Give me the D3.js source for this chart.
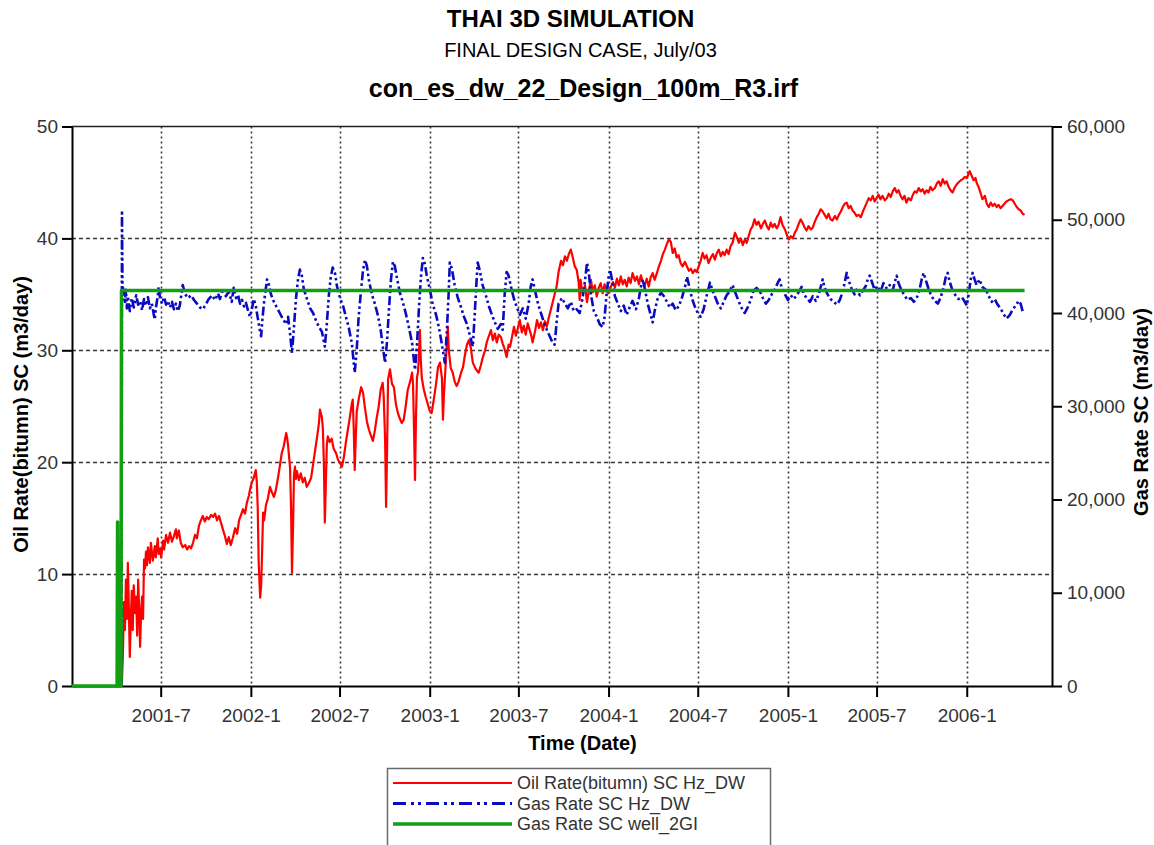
<!DOCTYPE html>
<html>
<head>
<meta charset="utf-8">
<script src="https://cdn.jsdelivr.net/npm/d3@7"></script>
<style>
  html, body { margin: 0; padding: 0; background: #fff; }
  svg { display: block; font-family: "Liberation Sans", Arial, Helvetica, sans-serif; }
</style>
</head>
<body>
<svg id="chart" width="1154" height="845"></svg>
<script>
// ---- chart text ----
const titleLines = ["THAI 3D SIMULATION", "FINAL DESIGN CASE, July/03", "con_es_dw_22_Design_100m_R3.irf"];
const xAxisTitle = "Time (Date)";
const yLeftTitle = "Oil Rate(bitumn) SC (m3/day)";
const yRightTitle = "Gas Rate SC (m3/day)";
const seriesNames = ["Oil Rate(bitumn) SC Hz_DW", "Gas Rate SC Hz_DW", "Gas Rate SC well_2GI"];

// ---- axes ----
const simStart = "2001-01-01";
const timeDomain = ["2001-01-01", "2006-06-24"];
const timeTicks = ["2001-7", "2002-1", "2002-7", "2003-1", "2003-7", "2004-1", "2004-7", "2005-1", "2005-7", "2006-1"];
const oilTicks = [0, 10, 20, 30, 40, 50];
const gasTicks = [0, 10000, 20000, 30000, 40000, 50000, 60000];

// ---- series: [days since simStart, rate in m3/day] ----
const oilRate = [[100,0.3],[102,0.5],[104,3],[106,7.5],[108,5],[110,9.5],[112,6],[114,11],[116,7],[118,2.6],[120,6],[122,8.5],[124,5],[126,9],[129,6.5],[131,8],[133,4.5],[135,9.5],[137,7],[139,3.5],[141,6.5],[143,8],[145,6],[147,11.3],[149,10.5],[151,12],[153,10.8],[155,12.4],[159,11],[161,12.8],[165,11.2],[169,12.5],[171,11.5],[175,13.2],[177,11.8],[180,12.3],[182,11.5],[186,13],[188,12.2],[192,13.5],[196,12.8],[200,13.7],[204,12.9],[208,13.4],[212,14],[214,13.2],[218,13.9],[222,12.8],[226,12.4],[231,12.6],[235,12.2],[239,12.5],[243,12.3],[247,12.8],[251,13.5],[255,13.2],[259,14.3],[263,14.8],[267,15.2],[271,14.7],[275,15.1],[279,14.9],[284,15.3],[288,15.1],[292,15.4],[296,14.8],[300,15.2],[304,14.6],[308,14],[312,13.4],[316,12.7],[320,13.3],[324,12.6],[328,13.2],[333,14.1],[337,13.6],[341,14.8],[345,15.3],[349,15.8],[353,15.4],[357,16.4],[361,17],[363,17.5],[367,18.2],[371,18.6],[375,19.3],[377,18.4],[379,16],[381,11],[384,7.9],[386,9],[388,12],[390,15.5],[392,14.8],[396,16.2],[400,16.8],[404,17.8],[408,17.3],[412,16.9],[416,17.5],[420,18.5],[424,19.6],[428,20.8],[432,21.4],[437,22.6],[439,22.2],[441,21.5],[443,20.5],[445,19.5],[447,16],[449,10.1],[451,14],[453,18.8],[455,19.6],[457,18.5],[459,19.2],[463,18.4],[467,19],[471,18.2],[475,18.6],[479,17.8],[483,18.1],[488,18.6],[492,19.8],[496,21],[500,22.2],[504,23.5],[506,24.7],[510,24],[512,23],[514,20],[516,14.6],[518,18],[520,21.5],[522,22.3],[526,21.8],[530,22.1],[534,21.2],[539,20.8],[543,20.2],[547,19.9],[551,19.6],[555,20.5],[559,21.8],[563,22.9],[567,24],[571,25.2],[573,25.6],[575,23],[577,19.3],[579,22],[581,24.5],[585,25.6],[590,26.7],[594,26.2],[598,24.8],[602,23.6],[606,22.9],[610,22.4],[614,21.9],[618,22.8],[622,24],[626,25],[630,26.5],[634,27.1],[636,26],[639,22],[641,16],[643,21],[645,27.4],[649,28.3],[653,27],[657,26.7],[661,25.2],[665,24.4],[669,23.9],[673,23.5],[677,23.8],[681,25],[685,26.4],[690,27.2],[694,28],[696,27],[698,23],[700,18.4],[702,24],[704,27.6],[706,28],[708,29.5],[710,31.8],[712,29],[714,27.5],[718,26.5],[722,25.8],[726,25.2],[730,24.6],[734,24.4],[738,25.5],[743,27],[747,28.5],[751,28.9],[755,27.5],[757,23.8],[759,26],[763,29],[767,32.1],[769,30],[773,28.4],[777,28],[781,27.2],[785,26.8],[789,27.2],[794,28],[798,28.5],[802,29.6],[806,30.5],[810,30.9],[814,30.2],[818,28.9],[822,28.5],[826,28.2],[830,28],[834,28.6],[838,29.3],[843,30],[847,30.8],[851,31.3],[855,31.8],[859,30.9],[863,31.5],[867,30.7],[871,31.4],[875,31.2],[879,30.6],[883,30.1],[887,29.4],[891,30.5],[894,30.3],[898,31.2],[902,32.1],[906,31.3],[910,32],[914,32.7],[918,31.6],[922,32.2],[926,31.4],[930,32.4],[934,31.8],[938,31.2],[940,30.7],[945,31.7],[949,32.7],[953,32],[957,32.5],[961,31.8],[965,32.6],[969,32.1],[973,32.9],[977,33.6],[981,34.3],[985,35],[989,35.7],[993,37],[998,38],[1002,37.6],[1006,38.4],[1010,38],[1014,38.6],[1018,39],[1022,38.3],[1026,37.5],[1030,37.2],[1034,36.1],[1036,34.5],[1038,36.3],[1042,35],[1047,35.8],[1051,34.3],[1055,35.4],[1059,36.3],[1063,35.2],[1067,35.8],[1071,34.8],[1075,35.6],[1079,36],[1083,35.1],[1087,35.9],[1091,35.3],[1095,35.1],[1100,35.7],[1104,36.1],[1108,35.6],[1112,36.4],[1116,35.8],[1120,36.6],[1124,35.9],[1128,36.3],[1132,35.7],[1136,36.5],[1140,36],[1144,36.9],[1149,36.2],[1153,36.6],[1157,35.9],[1161,36.7],[1165,36.1],[1169,35.8],[1173,36.4],[1177,35.7],[1181,36.5],[1185,36.9],[1189,36.3],[1193,36.8],[1197,37.4],[1202,38],[1206,38.6],[1210,39],[1214,39.5],[1218,39.9],[1222,39.7],[1226,38.7],[1230,39.1],[1234,38.3],[1238,38.5],[1242,37.8],[1246,37.5],[1251,37.9],[1255,37.5],[1259,37.1],[1263,37.3],[1267,36.9],[1271,37.2],[1275,37],[1279,37.5],[1283,38],[1287,38.7],[1291,38.2],[1295,38.5],[1299,37.8],[1304,38.3],[1308,38.6],[1312,38.1],[1316,38.7],[1320,39],[1324,38.4],[1328,38.8],[1332,38.5],[1336,39],[1340,38.6],[1344,39.3],[1348,39.6],[1353,40.5],[1357,40.1],[1361,39.6],[1365,40],[1369,39.4],[1373,39.9],[1377,39.6],[1381,40.2],[1385,40.8],[1389,41.1],[1393,41.7],[1397,41.2],[1401,41.5],[1406,40.9],[1410,41.3],[1414,41.6],[1418,41.1],[1422,40.8],[1426,41.4],[1430,41],[1434,41.3],[1438,40.9],[1442,41.2],[1446,41.9],[1450,41.2],[1455,40.8],[1459,40.3],[1463,39.9],[1467,40.2],[1471,40],[1475,40.5],[1479,40.8],[1483,41.3],[1487,41.7],[1491,41.4],[1495,41],[1499,40.7],[1503,41.1],[1508,40.8],[1512,41],[1516,41.5],[1520,41.9],[1524,42.2],[1528,42.6],[1532,42.4],[1536,42.1],[1540,41.8],[1544,42.2],[1548,41.7],[1552,41.6],[1557,42],[1561,41.7],[1565,42.1],[1569,42.4],[1573,42.8],[1577,43.1],[1581,43.2],[1585,42.7],[1589,42.9],[1593,42.5],[1597,42.3],[1601,42],[1605,42.1],[1610,41.9],[1614,42.4],[1618,42.8],[1622,43.2],[1626,43.6],[1630,43.4],[1634,43.8],[1638,43.3],[1642,43.6],[1646,43.9],[1650,43.5],[1654,43.8],[1659,43.4],[1663,43.6],[1667,44],[1671,43.7],[1675,44.2],[1679,44.5],[1683,44.1],[1687,44.3],[1691,43.8],[1695,43.5],[1699,43.8],[1703,43.2],[1707,43.6],[1712,43.4],[1716,43.9],[1720,44.2],[1724,44.1],[1728,44.5],[1732,44.2],[1736,44.4],[1740,44],[1744,44.3],[1748,44.1],[1752,44.6],[1756,44.3],[1761,44.5],[1765,44.9],[1769,45.1],[1773,44.7],[1777,45.3],[1781,44.9],[1785,45.1],[1789,44.6],[1793,44.3],[1797,44.1],[1801,44.5],[1805,44.8],[1809,45],[1814,45.2],[1818,45.3],[1822,45.5],[1826,45.4],[1830,45.8],[1832,46],[1836,45.6],[1840,45.2],[1844,45.4],[1846,45],[1850,44.6],[1854,44.1],[1858,43.5],[1863,43.8],[1867,43.1],[1871,42.8],[1875,43.2],[1879,42.9],[1883,43.1],[1887,42.8],[1891,43],[1895,42.7],[1899,42.9],[1903,43.1],[1907,43.3],[1911,43.4],[1916,43.5],[1920,43.4],[1924,43.1],[1928,42.8],[1932,42.6],[1936,42.5],[1940,42.2],[1944,42.1]];

const gasRateHz = [[101,0],[102,51000],[103,43000],[106,42000],[108,41000],[110,42500],[112,40500],[114,41800],[118,40200],[122,41600],[126,40600],[131,41900],[135,40900],[139,41300],[143,40300],[147,41500],[151,40800],[155,41700],[159,40500],[163,41000],[167,39800],[169,39300],[171,40500],[175,41800],[177,42800],[180,41500],[184,41000],[188,41700],[192,40900],[196,41300],[200,40600],[204,41200],[208,40400],[212,41000],[216,40200],[220,40800],[226,43000],[231,42000],[237,41600],[243,41900],[249,41400],[255,41000],[261,40600],[267,40400],[273,40900],[279,41500],[286,41900],[292,41400],[298,42100],[302,41500],[308,42600],[314,41800],[320,42300],[326,41200],[330,42700],[335,41600],[339,41900],[343,41000],[347,41400],[351,40700],[355,41100],[359,40300],[363,39600],[367,40400],[371,41500],[375,40800],[379,39500],[384,38000],[386,37500],[388,39000],[392,41200],[396,42800],[398,43600],[402,43000],[406,42000],[412,41200],[418,40600],[424,40000],[430,39400],[437,38800],[441,39600],[445,37800],[449,35700],[453,38500],[457,41500],[461,43500],[465,44650],[469,44000],[473,42600],[479,41600],[486,40500],[492,40000],[498,39200],[504,38500],[510,38000],[516,36400],[520,38800],[524,41800],[528,43800],[532,44870],[537,44200],[541,42800],[547,41600],[553,40800],[559,39600],[565,38400],[571,36800],[577,33600],[581,36000],[585,39600],[590,42500],[594,44600],[598,45700],[602,45000],[606,43500],[612,42000],[618,41000],[624,39800],[630,38200],[634,36500],[639,34650],[643,37000],[647,40500],[651,43600],[655,45500],[659,45000],[663,43800],[669,42200],[675,41200],[681,40000],[687,38600],[694,36800],[700,33900],[704,36500],[708,40500],[712,43800],[716,45900],[720,45300],[724,44000],[730,42600],[736,41000],[743,39800],[749,38400],[755,36600],[761,34650],[765,38000],[769,42500],[771,45400],[775,44800],[781,43000],[787,41700],[794,40600],[800,39600],[806,38800],[812,37600],[818,36400],[822,40000],[826,43800],[828,45400],[832,44600],[838,43000],[845,41800],[851,40700],[857,39800],[863,39000],[869,38300],[875,38800],[879,38200],[883,42000],[887,44400],[891,44000],[896,42800],[902,41500],[908,40600],[914,39800],[920,40500],[926,39400],[932,41000],[936,42800],[940,43600],[945,42400],[951,41000],[957,40000],[963,39000],[969,38200],[975,37500],[981,36800],[985,36600],[989,39000],[993,41000],[1000,41600],[1006,41000],[1012,40500],[1018,41200],[1024,40200],[1030,40400],[1036,40000],[1042,41600],[1047,43500],[1051,45400],[1055,44200],[1059,42000],[1065,40200],[1071,39600],[1077,38800],[1083,38500],[1087,39600],[1091,42000],[1095,43800],[1098,44650],[1102,43600],[1108,41800],[1114,41000],[1120,40200],[1126,40800],[1132,39800],[1138,40600],[1144,41300],[1151,40400],[1157,41600],[1161,42800],[1165,43600],[1169,42600],[1175,41000],[1181,39800],[1185,39000],[1189,40200],[1195,41500],[1202,42200],[1208,41800],[1214,41200],[1220,40600],[1226,41000],[1232,40300],[1238,40700],[1244,41500],[1251,42800],[1255,43900],[1259,43000],[1265,41600],[1271,40700],[1277,40000],[1283,39600],[1289,40400],[1295,41800],[1302,43250],[1306,42600],[1312,41800],[1318,41000],[1324,40500],[1330,41200],[1336,41900],[1342,42300],[1348,43000],[1355,42000],[1361,41200],[1367,40500],[1373,40000],[1379,40600],[1385,41400],[1391,42400],[1397,42700],[1404,42300],[1410,41600],[1416,41000],[1422,41400],[1428,42000],[1434,42500],[1440,43200],[1444,43600],[1448,42800],[1455,42000],[1461,41400],[1467,41900],[1473,41500],[1479,41900],[1485,42400],[1489,42800],[1493,42100],[1499,41600],[1506,41200],[1512,41800],[1518,41300],[1524,42000],[1528,42800],[1532,43600],[1536,42700],[1542,42000],[1548,41500],[1554,41200],[1561,40900],[1567,41400],[1573,42300],[1577,43300],[1581,44300],[1585,43500],[1591,42600],[1597,42000],[1601,42500],[1608,41900],[1614,42400],[1620,42900],[1624,43600],[1628,44000],[1632,43400],[1638,42500],[1644,42900],[1650,42300],[1656,43200],[1663,42600],[1669,43000],[1675,42400],[1679,43300],[1683,44000],[1687,43200],[1693,42400],[1699,41900],[1705,41400],[1712,41600],[1718,41200],[1724,41600],[1730,42600],[1734,43600],[1738,44300],[1742,43600],[1748,42600],[1754,41800],[1761,41300],[1767,41000],[1773,41700],[1779,42800],[1783,43800],[1787,44300],[1791,43400],[1797,42400],[1803,41900],[1809,41500],[1816,41700],[1822,41200],[1826,40800],[1830,42000],[1834,43600],[1838,44300],[1842,43600],[1846,43000],[1852,43600],[1858,42800],[1865,42500],[1871,41800],[1877,41200],[1883,41500],[1889,40900],[1895,40500],[1901,39900],[1907,39400],[1914,39800],[1920,40400],[1926,40800],[1932,41300],[1936,41000],[1940,40200],[1944,40000]];

const gasRateWell = [[0,0],[92,0],[93,17600],[94,0],[100,0],[101,42400],[1944,42400]];

// ---- drawing ----
const svg = d3.select("#chart");
const font = '"Liberation Sans", Arial, Helvetica, sans-serif';
const plot = { left: 72, right: 1052, top: 126.5, bottom: 686 };
const colors = { oil: "#ff0000", gasHz: "#0a0abf", gasWell: "#12a012" };

const parseDay = d3.timeParse("%Y-%m-%d");
const t0 = parseDay(simStart);
const toDate = d => d3.timeDay.offset(t0, d);
const tickDates = timeTicks.map(s => { const [yy, mm] = s.split("-").map(Number); return new Date(yy, mm - 1, 1); });

const x = d3.scaleTime().domain(timeDomain.map(parseDay)).range([plot.left, plot.right]);
const yOil = d3.scaleLinear().domain([0, 50]).range([plot.bottom, plot.top]);
const yGas = d3.scaleLinear().domain([0, 60000]).range([plot.bottom, plot.top]);

// titles
const titleSpec = [
  { x: 570.5, y: 27, size: 24, weight: "bold" },
  { x: 580.5, y: 57, size: 20, weight: "normal" },
  { x: 583.5, y: 97, size: 25, weight: "bold" }
];
svg.append("g").selectAll("text").data(titleLines).join("text")
  .attr("x", (d, i) => titleSpec[i].x).attr("y", (d, i) => titleSpec[i].y)
  .attr("text-anchor", "middle")
  .attr("font-size", (d, i) => titleSpec[i].size)
  .attr("font-weight", (d, i) => titleSpec[i].weight)
  .attr("fill", "#000")
  .text(d => d);

// grid
const grid = svg.append("g");
grid.selectAll("line.h").data(oilTicks.filter(v => v > 0 && v < 50)).join("line")
  .attr("class", "h")
  .attr("x1", plot.left).attr("x2", plot.right)
  .attr("y1", d => Math.round(yOil(d)) + 0.5).attr("y2", d => Math.round(yOil(d)) + 0.5)
  .attr("stroke", "#3a3a3a").attr("stroke-width", 1.5).attr("stroke-dasharray", "4,3");
grid.selectAll("line.v").data(tickDates).join("line")
  .attr("class", "v")
  .attr("x1", d => Math.round(x(d)) + 0.5).attr("x2", d => Math.round(x(d)) + 0.5)
  .attr("y1", plot.top).attr("y2", plot.bottom)
  .attr("stroke", "#3a3a3a").attr("stroke-width", 1.6).attr("stroke-dasharray", "2,3");

// top frame line
svg.append("line")
  .attr("x1", plot.left).attr("x2", plot.right)
  .attr("y1", plot.top).attr("y2", plot.top)
  .attr("stroke", "#222").attr("stroke-width", 1.5);

function styleAxis(g) {
  g.attr("font-family", font).attr("font-size", 19);
  g.select(".domain").attr("stroke", "#000").attr("stroke-width", 2);
  g.selectAll(".tick line").attr("stroke", "#000").attr("stroke-width", 2);
  g.selectAll(".tick text").attr("fill", "#333");
}

svg.append("g").attr("transform", `translate(${plot.left},0)`)
  .call(d3.axisLeft(yOil).tickValues(oilTicks).tickSize(10).tickPadding(4).tickSizeOuter(0))
  .call(styleAxis);

svg.append("g").attr("transform", `translate(${plot.right},0)`)
  .call(d3.axisRight(yGas).tickValues(gasTicks).tickFormat(d3.format(",")).tickSize(10).tickPadding(5).tickSizeOuter(0))
  .call(styleAxis);

svg.append("g").attr("transform", `translate(0,${plot.bottom})`)
  .call(d3.axisBottom(x).tickValues(tickDates).tickFormat((d, i) => timeTicks[i]).tickSize(11).tickPadding(12).tickSizeOuter(0))
  .call(styleAxis);

// axis titles
svg.append("text").attr("x", 582.5).attr("y", 750)
  .attr("text-anchor", "middle").attr("font-size", 20).attr("font-weight", "bold")
  .text(xAxisTitle);
svg.append("text").attr("transform", "translate(28,414.5) rotate(-90)")
  .attr("text-anchor", "middle").attr("font-size", 20).attr("font-weight", "bold")
  .text(yLeftTitle);
svg.append("text").attr("transform", "translate(1148,412) rotate(-90)")
  .attr("text-anchor", "middle").attr("font-size", 20).attr("font-weight", "bold")
  .text(yRightTitle);

// series
svg.append("clipPath").attr("id", "plotClip").append("rect")
  .attr("x", plot.left - 2).attr("y", plot.top - 2)
  .attr("width", plot.right - plot.left + 4).attr("height", plot.bottom - plot.top + 4);
const lines = svg.append("g").attr("clip-path", "url(#plotClip)");

const seriesSpec = [
  { data: oilRate, y: yOil, color: colors.oil, width: 2.2, dash: null },
  { data: gasRateHz, y: yGas, color: colors.gasHz, width: 2.6, dash: "9,3,2.5,3,2.5,3" },
  { data: gasRateWell, y: yGas, color: colors.gasWell, width: 3.5, dash: null }
];
seriesSpec.forEach(s => {
  const gen = d3.line().x(d => x(toDate(d[0]))).y(d => s.y(d[1]));
  lines.append("path")
    .attr("d", gen(s.data))
    .attr("fill", "none")
    .attr("stroke", s.color)
    .attr("stroke-width", s.width)
    .attr("stroke-linejoin", "round")
    .attr("stroke-dasharray", s.dash);
});

// legend (box runs past the bottom edge of the page)
const legend = svg.append("g");
legend.append("rect")
  .attr("x", 387.5).attr("y", 768.5).attr("width", 383).attr("height", 100)
  .attr("fill", "#fff").attr("stroke", "#6a6a6a").attr("stroke-width", 1.5);
const legendRows = [
  { lineY: 783, textY: 789, color: colors.oil, width: 2, dash: null },
  { lineY: 803.5, textY: 809.5, color: colors.gasHz, width: 3, dash: "13,5,3,4,3,5" },
  { lineY: 824, textY: 830, color: colors.gasWell, width: 3.5, dash: null }
];
legendRows.forEach((r, i) => {
  legend.append("line")
    .attr("x1", 393).attr("x2", 512).attr("y1", r.lineY).attr("y2", r.lineY)
    .attr("stroke", r.color).attr("stroke-width", r.width).attr("stroke-dasharray", r.dash);
  legend.append("text")
    .attr("x", 517).attr("y", r.textY)
    .attr("font-size", 18).attr("fill", "#333")
    .text(seriesNames[i]);
});
</script>
</body>
</html>
